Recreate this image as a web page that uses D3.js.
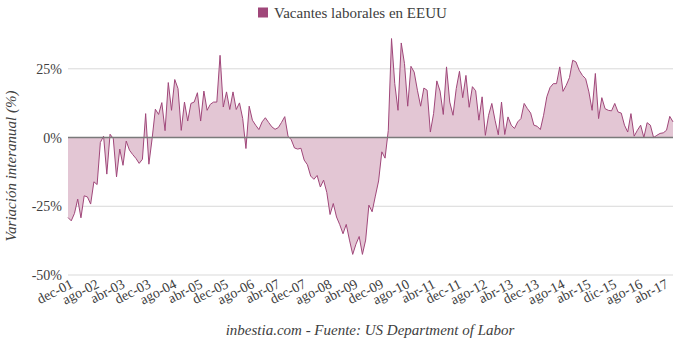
<!DOCTYPE html>
<html><head><meta charset="utf-8">
<script src="https://cdn.jsdelivr.net/npm/d3@7"></script>
<style>
body{margin:0;background:#fff}
text{font-family:"Liberation Serif","Times New Roman",serif}
</style>
</head><body>
<svg id="c" width="680" height="349"></svg>
<script>
// Monthly year-on-year change (%) of US job openings, Dec 2001 .. Jul 2017
const values = [
 -29.1,-30.3,-27.6,-22.4,-29.2,-21.2,-21.6,-24.2,-16.1,-17.1,
 -1.8,0.5,-13.3,1.2,-0.4,-14.3,-4.2,-10.1,-1.3,-4.6,
 -6.2,-7.6,-9.4,-7.9,8.7,-9.7,-0.4,10.3,8.4,12.7,
 2.5,20.0,9.9,21.1,17.8,2.6,12.9,6.0,12.4,12.9,
 16.3,6.0,16.9,9.9,12.1,12.9,12.9,29.9,11.1,16.6,
 10.2,16.6,10.2,12.6,6.9,-4.0,11.4,6.3,4.5,2.9,
 5.7,7.2,5.5,3.9,3.0,3.6,5.5,7.6,0.5,-0.8,
 -3.8,-4.2,-3.9,-8.2,-9.9,-14.0,-15.2,-13.8,-18.0,-15.5,
 -20.0,-28.0,-24.0,-28.9,-31.7,-35.0,-31.6,-37.3,-42.5,-38.8,
 -36.0,-42.5,-37.3,-24.6,-27.0,-21.3,-15.8,-5.2,-7.5,2.6,
 36.0,19.6,9.9,34.4,26.9,11.4,25.9,23.8,17.2,11.4,
 18.0,17.2,2.0,8.7,20.6,16.9,8.4,25.7,12.9,8.1,
 17.8,24.1,14.5,22.6,11.0,18.5,17.0,6.3,14.8,0.8,
 8.1,12.4,6.3,1.0,12.9,1.1,7.5,4.5,3.3,5.7,
 6.9,12.4,10.5,8.9,4.5,4.1,2.9,8.1,14.8,18.2,
 19.6,19.6,25.7,16.8,19.0,21.8,28.1,27.5,24.5,22.6,
 21.4,16.6,9.9,23.3,6.9,14.5,10.5,9.9,9.7,12.4,
 9.3,8.9,4.5,2.0,8.7,0.5,2.65,4.5,0,5.4,
 4.5,0,0.8,1.5,1.7,2.65,7.7,5.7
];
const tickLabels = ["dec-01","ago-02","abr-03","dec-03","ago-04","abr-05","dec-05","ago-06",
 "abr-07","dec-07","ago-08","abr-09","dec-09","ago-10","abr-11","dec-11","ago-12","abr-13",
 "dec-13","ago-14","abr-15","dic-15","ago-16","abr-17"];
const tickStep = 8;            // one label every 8 months
const yTicks = [-50, -25, 0, 25];
const seriesName = "Vacantes laborales en EEUU";
const yTitle = "Variación interanual (%)";
const source = "inbestia.com - Fuente: US Department of Labor";

const svg = d3.select("#c");
const L = 68, R = 673;
const idx = d3.range(values.length);
const x = d3.scalePoint().domain(idx).range([L, R]);
const y = d3.scaleLinear().domain([-50, 25]).range([275, 68.8]);

const lineCol = "#a0477a", fillCol = "#e3c6d4", txt = "#404040";

// gridlines
svg.append("g").selectAll("line").data(yTicks.filter(d => d !== 0)).join("line")
  .attr("x1", L).attr("x2", R).attr("y1", d => y(d)).attr("y2", d => y(d))
  .attr("stroke", "#d9d9d9").attr("stroke-width", 1);

// area
svg.append("path").datum(values)
  .attr("d", d3.area().x((d, i) => x(i)).y0(y(0)).y1(d => y(d)))
  .attr("fill", fillCol);
svg.append("path").datum(values)
  .attr("d", d3.line().x((d, i) => x(i)).y(d => y(d)))
  .attr("fill", "none").attr("stroke", lineCol).attr("stroke-width", 1);

// zero line
svg.append("line").attr("x1", L).attr("x2", R).attr("y1", y(0)).attr("y2", y(0))
  .attr("stroke", "#7a7a7a").attr("stroke-width", 1.5);

// y axis labels
const yAxis = d3.axisLeft(y).tickValues(yTicks).tickSize(0).tickPadding(0)
  .tickFormat(d => d + "%");
const ya = svg.append("g").attr("transform", "translate(62,0)").call(yAxis);
ya.select(".domain").remove();
ya.selectAll("text").attr("font-size", 14).attr("fill", txt)
  .attr("font-family", '"Liberation Serif",serif');

// x axis labels
const xAxis = d3.axisBottom(x)
  .tickValues(tickLabels.map((t, k) => k * tickStep))
  .tickSize(0)
  .tickFormat(d => tickLabels[d / tickStep]);
const xa = svg.append("g").attr("transform", "translate(0,0)").call(xAxis);
xa.select(".domain").remove();
xa.selectAll(".tick").attr("transform", d => `translate(${x(d) + 6},287)`);
xa.selectAll("text").attr("y", 0).attr("dy", 0)
  .attr("text-anchor", "end").attr("transform", "rotate(-27)")
  .attr("font-size", 14).attr("fill", txt)
  .attr("font-family", '"Liberation Serif",serif');

// legend
svg.append("rect").attr("x", 258).attr("y", 7.5).attr("width", 10).attr("height", 10)
  .attr("fill", lineCol);
svg.append("text").attr("x", 274).attr("y", 18).attr("font-size", 15)
  .attr("fill", txt).text(seriesName);

// y title
svg.append("text").attr("transform", "translate(16,166) rotate(-90)")
  .attr("text-anchor", "middle").attr("font-size", 15).attr("font-style", "italic")
  .attr("fill", txt).text(yTitle);

// source
svg.append("text").attr("x", 370).attr("y", 335).attr("text-anchor", "middle")
  .attr("font-size", 15).attr("font-style", "italic").attr("fill", txt).text(source);
</script>
</body></html>
